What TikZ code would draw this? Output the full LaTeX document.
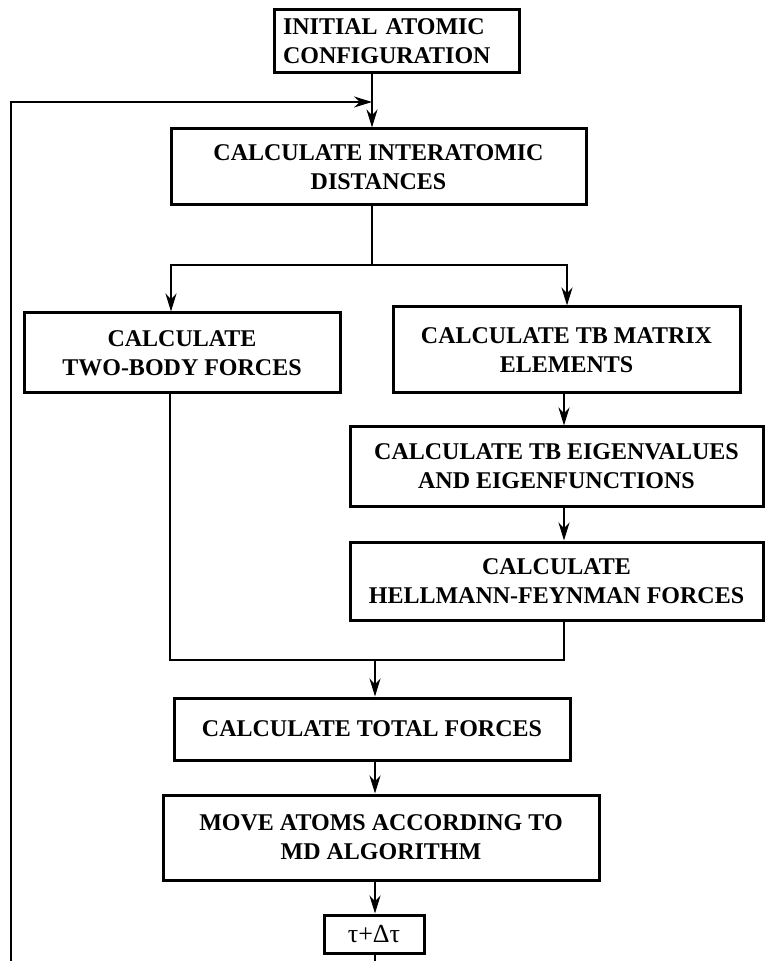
\documentclass[tikz,border=0pt]{standalone}
\usepackage{fontspec}
\setmainfont{Liberation Serif}
\usepackage{tikz}
\usetikzlibrary{positioning, arrows.meta}

\begin{document}
\begin{tikzpicture}[x=0.5pt, y=-0.5pt, >={Stealth[length=9pt, width=5.5pt]},
    box/.style={draw, line width=1.5pt, align=center, inner sep=0pt,
        font=\bfseries\fontsize{12}{14.5}\selectfont},
    link/.style={line width=1.1pt}] % pixel grid of the scan, y runs downwards

    \useasboundingbox (0,0) rectangle (766,961);

    % 1. Define Nodes
    \node[box, align=left, inner xsep=4.5pt, text width=113.5pt, minimum height=31.5pt] (init) at (396.5,41.5) {INITIAL ATOMIC\\CONFIGURATION};
    \node[box, minimum width=207.5pt, minimum height=38pt] (dist) at (378.5,167) {CALCULATE INTERATOMIC\\DISTANCES};
    \node[box, minimum width=158pt, minimum height=40pt] (twobody) at (182,353) {CALCULATE\\TWO-BODY FORCES};
    \node[box, minimum width=173.5pt, minimum height=43pt] (tbmat) at (566.5,350) {CALCULATE TB MATRIX\\ELEMENTS};
    \node[box, minimum width=206.5pt, minimum height=39.5pt] (eigen) at (556.5,466.5) {CALCULATE TB EIGENVALUES\\AND EIGENFUNCTIONS};
    \node[box, minimum width=206.5pt, minimum height=39pt] (hf) at (556.5,581) {CALCULATE\\HELLMANN-FEYNMAN FORCES};
    \node[box, minimum width=198pt, minimum height=31pt] (total) at (372,729) {CALCULATE TOTAL FORCES};
    \node[box, minimum width=218pt, minimum height=42.5pt] (move) at (381,837.5) {MOVE ATOMS ACCORDING TO\\MD ALGORITHM};
    \node[box, minimum width=50pt, minimum height=19pt, font=\fontsize{13}{15}\selectfont] (tau) at (374,934) {τ+Δτ};

    % helper points for the branches and the loop
    \coordinate (top) at (372,102);
    \coordinate (split) at (372,265);
    \coordinate (join) at (375,660);
    \coordinate (loopend) at (375,961);
    \coordinate (loopstart) at (11,961);

    % 2. Draw Arrows
    % Start -> interatomic distances (the loop comes in at top)
    \draw[link, ->] (init.south -| top) -- (dist.north -| top);
    \draw[link, ->] (loopstart) -- (loopstart |- top) -- (top);

    % Split into the two branches
    \draw[link] (dist.south -| split) -- (split);
    \draw[link, ->] (split) -- (split -| 171,0) -- (twobody.north -| 171,0);
    \draw[link, ->] (split) -- (split -| 567,0) -- (tbmat.north -| 567,0);

    % Tight-binding branch
    \draw[link, ->] (tbmat.south -| 564,0) -- (eigen.north -| 564,0);
    \draw[link, ->] (eigen.south -| 564,0) -- (hf.north -| 564,0);

    % Both force parts meet again
    \draw[link] (twobody.south -| 170,0) -- (join -| 170,0) -- (join -| 564,0) -- (hf.south -| 564,0);
    \draw[link, ->] (join) -- (total.north -| join);

    % Time step
    \draw[link, ->] (total.south -| join) -- (move.north -| join);
    \draw[link, ->] (move.south -| join) -- (tau.north -| join);
    \draw[link] (tau.south -| join) -- (loopend);

\end{tikzpicture}
\end{document}
